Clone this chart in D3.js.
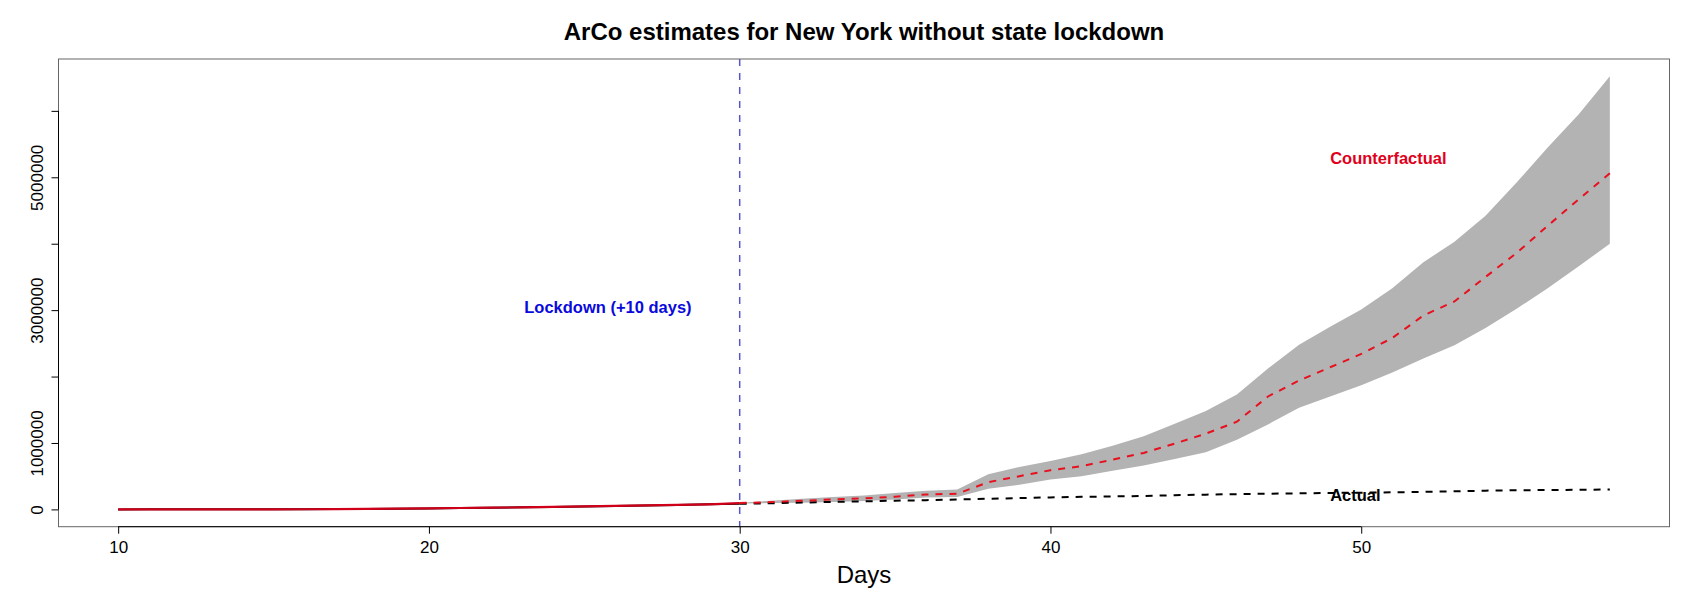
<!DOCTYPE html>
<html>
<head>
<meta charset="utf-8">
<script src="https://cdn.jsdelivr.net/npm/d3@7"></script>
<style>
  body { margin: 0; background: #fff; }
  text { font-family: "Liberation Sans", Arial, Helvetica, sans-serif; }
</style>
</head>
<body>
<div id="chart"></div>
<script>
// days on the x axis
var days = d3.range(10, 59);

// observed cases (actual), days 10..58
var actual = [328, 421, 525, 729, 950, 1700, 2382, 4152, 7102, 10356,
  15168, 20875, 25665, 30811, 37258, 44635, 52318, 59513, 66497, 75795,
  83712, 92381, 102863, 113704, 122031, 130689, 138836, 149316, 159937, 170512,
  180458, 188694, 195031, 202208, 213779, 222284, 229642, 236732, 241712, 247512,
  251690, 257216, 263460, 271590, 282143, 288045, 291996, 295106, 299691];

// ArCo fitted / counterfactual path, days 10..58
var counterfactual = [300, 400, 520, 720, 950, 1650, 2400, 4100, 7000, 10300,
  15000, 20800, 25700, 30900, 37300, 44600, 52200, 59600, 66600, 75900,
  95000, 110000, 130000, 150000, 165000, 190000, 225000, 235000, 410000, 500000,
  590000, 650000, 750000, 850000, 990000, 1140000, 1320000, 1700000, 1940000, 2140000,
  2340000, 2580000, 2920000, 3130000, 3500000, 3860000, 4270000, 4670000, 5060000];

// confidence band, days 30..58
var bandDays = d3.range(30, 59);
var upper = [100000, 130000, 160000, 185000, 210000, 245000, 280000, 300000, 530000, 640000,
  730000, 830000, 960000, 1100000, 1290000, 1480000, 1730000, 2120000, 2480000, 2750000,
  3010000, 3330000, 3720000, 4030000, 4420000, 4920000, 5450000, 5950000, 6520000];
var lower = [90000, 95000, 100000, 110000, 125000, 150000, 180000, 185000, 310000, 370000,
  450000, 500000, 580000, 660000, 760000, 860000, 1050000, 1280000, 1530000, 1700000,
  1870000, 2060000, 2270000, 2470000, 2730000, 3020000, 3330000, 3660000, 4000000];

var lockdownDay = 30;
var xTicks = [10, 20, 30, 40, 50];
var yTicks = [0, 1000000, 2000000, 3000000, 4000000, 5000000, 6000000];
var yLabels = [0, 1000000, 3000000, 5000000];

var width = 1700,
    height = 600;
var plot = {left: 58.5, right: 1669.5, top: 59, bottom: 526.7};

var svg = d3.select("#chart")
  .append("svg")
    .attr("width", width)
    .attr("height", height);

// R style 4% padding on both scales
function padded(ext) {
  var p = (ext[1] - ext[0]) * 0.04;
  return [ext[0] - p, ext[1] + p];
}

var x = d3.scaleLinear()
  .domain(padded(d3.extent(days)))
  .range([plot.left, plot.right]);

var y = d3.scaleLinear()
  .domain(padded(d3.extent(actual.concat(counterfactual, upper, lower))))
  .range([plot.bottom, plot.top]);

// band
var area = d3.area()
  .x(function(d, i) { return x(bandDays[i]); })
  .y0(function(d, i) { return y(lower[i]); })
  .y1(function(d, i) { return y(upper[i]); });

svg.append("path")
  .datum(upper)
  .attr("d", area)
  .attr("fill", "#b3b3b3");

var line = d3.line()
  .x(function(d) { return x(d[0]); })
  .y(function(d) { return y(d[1]); });

function pairs(values, from, to) {
  return days.map(function(d, i) { return [d, values[i]]; })
    .filter(function(p) { return p[0] >= from && p[0] <= to; });
}

// actual: solid before lockdown, dashed after
svg.append("path")
  .datum(pairs(actual, 10, lockdownDay))
  .attr("d", line)
  .attr("fill", "none")
  .attr("stroke", "#000")
  .attr("stroke-width", 2);

svg.append("path")
  .datum(pairs(actual, lockdownDay, 58))
  .attr("d", line)
  .attr("fill", "none")
  .attr("stroke", "#000")
  .attr("stroke-width", 2)
  .attr("stroke-dasharray", "7,7");

// counterfactual
svg.append("path")
  .datum(pairs(counterfactual, 10, lockdownDay))
  .attr("d", line)
  .attr("fill", "none")
  .attr("stroke", "#d0001a")
  .attr("stroke-width", 2.2);

svg.append("path")
  .datum(pairs(counterfactual, lockdownDay, 58))
  .attr("d", line)
  .attr("fill", "none")
  .attr("stroke", "#e8101e")
  .attr("stroke-width", 2)
  .attr("stroke-dasharray", "7,7");

// lockdown marker
svg.append("line")
  .attr("x1", x(lockdownDay))
  .attr("x2", x(lockdownDay))
  .attr("y1", plot.top)
  .attr("y2", plot.bottom)
  .attr("stroke", "#5656cc")
  .attr("stroke-width", 1.5)
  .attr("stroke-dasharray", "7,7");

// frame
svg.append("rect")
  .attr("x", plot.left)
  .attr("y", plot.top)
  .attr("width", plot.right - plot.left)
  .attr("height", plot.bottom - plot.top)
  .attr("fill", "none")
  .attr("stroke", "#666")
  .attr("stroke-width", 1);

// x axis
var xAxis = d3.axisBottom(x)
  .tickValues(xTicks)
  .tickSize(7)
  .tickFormat(d3.format("d"));

var gx = svg.append("g")
  .attr("transform", "translate(0," + plot.bottom + ")")
  .call(xAxis);
gx.select(".domain").remove();
gx.selectAll("line").attr("stroke", "#000");
gx.selectAll("text")
  .attr("y", 26)
  .attr("dy", 0)
  .attr("fill", "#000")
  .style("font-size", "17px");
gx.append("line")
  .attr("x1", x(xTicks[0]))
  .attr("x2", x(xTicks[xTicks.length - 1]))
  .attr("stroke", "#000");

// y axis
var yAxis = d3.axisLeft(y)
  .tickValues(yTicks)
  .tickSize(7)
  .tickFormat(function(d) { return yLabels.indexOf(d) >= 0 ? d3.format("d")(d) : ""; });

var gy = svg.append("g")
  .attr("transform", "translate(" + plot.left + ",0)")
  .call(yAxis);
gy.select(".domain").remove();
gy.selectAll("line").attr("stroke", "#000");
gy.selectAll("text")
  .attr("transform", "rotate(-90)")
  .attr("x", 0)
  .attr("y", -16)
  .attr("dy", 0)
  .attr("fill", "#000")
  .style("text-anchor", "middle")
  .style("font-size", "17px");
gy.append("line")
  .attr("y1", y(yTicks[0]))
  .attr("y2", y(yTicks[yTicks.length - 1]))
  .attr("stroke", "#000");

// titles
svg.append("text")
  .attr("x", (plot.left + plot.right) / 2)
  .attr("y", 40)
  .attr("text-anchor", "middle")
  .style("font-size", "24px")
  .style("font-weight", "bold")
  .text("ArCo estimates for New York without state lockdown");

svg.append("text")
  .attr("x", (plot.left + plot.right) / 2)
  .attr("y", 583)
  .attr("text-anchor", "middle")
  .style("font-size", "24px")
  .text("Days");

// annotations
svg.append("text")
  .attr("x", x(25.76))
  .attr("y", y(3040000))
  .attr("dy", "0.35em")
  .attr("text-anchor", "middle")
  .attr("fill", "#0a0adc")
  .style("font-size", "16.5px")
  .style("font-weight", "bold")
  .text("Lockdown (+10 days)");

svg.append("text")
  .attr("x", x(49))
  .attr("y", y(5280000))
  .attr("dy", "0.35em")
  .attr("fill", "#e0001b")
  .style("font-size", "16.5px")
  .style("font-weight", "bold")
  .text("Counterfactual");

svg.append("text")
  .attr("x", x(49))
  .attr("y", y(210000))
  .attr("dy", "0.35em")
  .attr("fill", "#000")
  .style("font-size", "16.5px")
  .style("font-weight", "bold")
  .text("Actual");
</script>
</body>
</html>
